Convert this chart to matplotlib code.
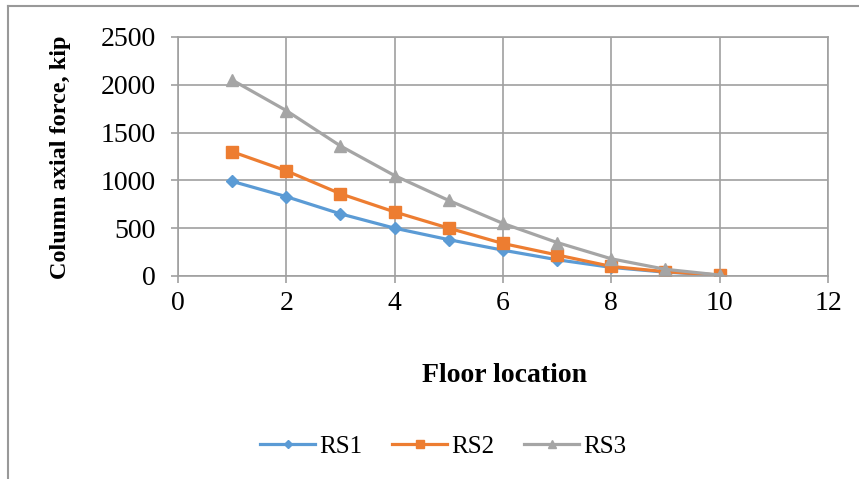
import matplotlib.pyplot as plt
from matplotlib.lines import Line2D

floors = [1, 2, 3, 4, 5, 6, 7, 8, 9, 10]
rs1 = [990, 830, 650, 500, 380, 270, 170, 90, 40, 10]
rs2 = [1300, 1100, 860, 670, 500, 340, 220, 100, 45, 10]
rs3 = [2050, 1730, 1360, 1050, 790, 550, 350, 180, 70, 10]
series_names = ['RS1', 'RS2', 'RS3']

plt.rcParams['font.family'] = ['Liberation Serif', 'DejaVu Serif']

fig = plt.figure(figsize=(8.59, 4.79), dpi=100)
ax = fig.add_axes([0.2072, 0.4238, 0.7567, 0.499])

grid_c = '#a0a0a0'
ax.plot(floors, rs1, color='#5b9bd5', lw=2.3, marker='D', ms=6.5, label=series_names[0])
ax.plot(floors, rs2, color='#ed7d31', lw=2.3, marker='s', ms=8, label=series_names[1])
ax.plot(floors, rs3, color='#a5a5a5', lw=2.3, marker='^', ms=8.5, label=series_names[2])

ax.set_xlim(0, 12)
ax.set_ylim(0, 2500)
ax.set_xticks(range(0, 13, 2))
ax.set_yticks(range(0, 2501, 500))
ax.grid(True, color=grid_c, lw=1.2)
ax.set_axisbelow(True)
for s in ax.spines.values():
    s.set_color(grid_c)
    s.set_linewidth(1.2)
ax.tick_params(length=5, width=1.2, color=grid_c, labelsize=20)
ax.tick_params(axis='y', pad=11)
ax.tick_params(axis='x', pad=6)

fig.text(0.071, 0.672, 'Column axial force, kip', rotation=90, fontsize=17.5,
         fontweight='bold', ha='center', va='center')
fig.text(0.587, 0.217, 'Floor location', fontsize=20, fontweight='bold',
         ha='center', va='center')

handles, labels = ax.get_legend_handles_labels()
fig.legend(handles, labels, loc='center', bbox_to_anchor=(0.516, 0.067), ncol=3,
           frameon=False, fontsize=18, handlelength=2.2, handletextpad=0.15,
           columnspacing=1.2, markerscale=0.7)

# outer chart border
fig.add_artist(Line2D([0.0093, 0.0093], [0.0, 0.987], color='#999999', lw=1.5,
                      transform=fig.transFigure))
fig.add_artist(Line2D([0.0093, 1.0], [0.987, 0.987], color='#999999', lw=1.5,
                      transform=fig.transFigure))

fig.savefig('out.png', dpi=100)
